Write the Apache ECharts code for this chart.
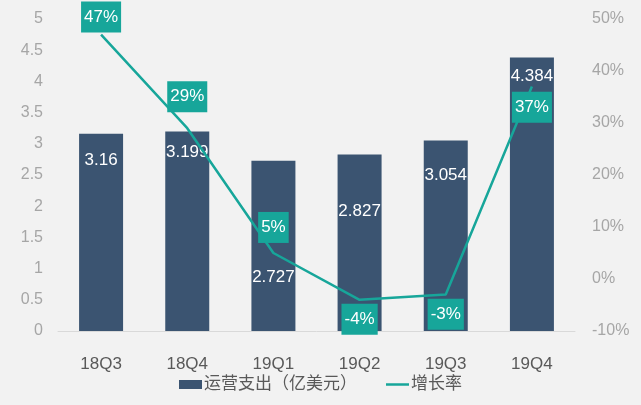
<!DOCTYPE html>
<html><head><meta charset="utf-8">
<script src="https://cdn.jsdelivr.net/npm/echarts@6/dist/echarts.min.js"></script>
<style>html,body{margin:0;padding:0;background:#f2f2f2;}#c{width:641px;height:405px;}</style>
</head><body><div id="c"></div>
<script>
const categories = ['18Q3','18Q4','19Q1','19Q2','19Q3','19Q4'];
const opex = [3.16, 3.199, 2.727, 2.827, 3.054, 4.384];
const growth = [47, 29, 5, -4, -3, 37];
const leftTicks = {min: 0, max: 5, interval: 0.5};
const rightTicks = {min: -10, max: 50, interval: 10};

// label placement (styling only)
const barLabelOffsets = [13, 7, 103, 43, 21, 5];
const lineLabelPlacement = [['top', 2], ['top', 16], ['top', 10], ['bottom', 4], ['bottom', 4], ['bottom', 5]];

const FONT = '"Liberation Sans", Arial, "Noto Sans CJK SC", sans-serif';
const chart = echarts.init(document.getElementById('c'));
chart.setOption({
  backgroundColor: '#f2f2f2',
  animation: false,
  grid: {left: 58, right: 66, top: 19, bottom: 74},
  legend: {
    bottom: 7, left: 174, itemGap: 29,
    itemWidth: 23, itemHeight: 9,
    textStyle: {fontSize: 17, color: '#595959', fontFamily: FONT, padding: [0, 0, 0, -3]},
    data: [{name: '运营支出（亿美元）', icon: 'rect'},
           {name: '增长率', icon: 'path://M0,3.5 L23,3.5 L23,6 L0,6 Z', itemStyle: {color: '#17a69a'}}]
  },
  xAxis: {
    type: 'category', data: categories,
    axisLine: {lineStyle: {color: '#d9d9d9'}},
    axisTick: {show: false},
    axisLabel: {fontSize: 17, color: '#595959', margin: 25, fontFamily: FONT}
  },
  yAxis: [
    {type: 'value', ...leftTicks, splitLine: {show: false},
     axisLabel: {fontSize: 16, color: '#a6a6a6', margin: 15, fontFamily: FONT}},
    {type: 'value', ...rightTicks, splitLine: {show: false},
     axisLabel: {fontSize: 16, color: '#a6a6a6', margin: 17, formatter: '{value}%', fontFamily: FONT}}
  ],
  series: [
    {
      name: '运营支出（亿美元）', type: 'bar', barWidth: 44,
      itemStyle: {color: '#3b5471'},
      data: opex.map((v, i) => ({value: v, label: {offset: [0, barLabelOffsets[i]]}})),
      label: {show: true, position: 'insideTop', distance: 5, color: '#fff', fontSize: 17, fontFamily: FONT}
    },
    {
      name: '增长率', type: 'line', yAxisIndex: 1,
      symbol: 'none', showSymbol: true,
      lineStyle: {color: '#17a69a', width: 2.5},
      itemStyle: {color: '#17a69a'},
      data: growth.map((v, i) => ({value: v, symbol: 'circle', symbolSize: 0.1,
        label: {show: true, position: lineLabelPlacement[i][0], distance: lineLabelPlacement[i][1]}})),
      label: {show: true, formatter: '{c}%', color: '#fff', fontSize: 17, fontFamily: FONT,
        lineHeight: 17, backgroundColor: '#17a69a', padding: [7, 3, 7, 3]}
    }
  ]
});
</script></body></html>
